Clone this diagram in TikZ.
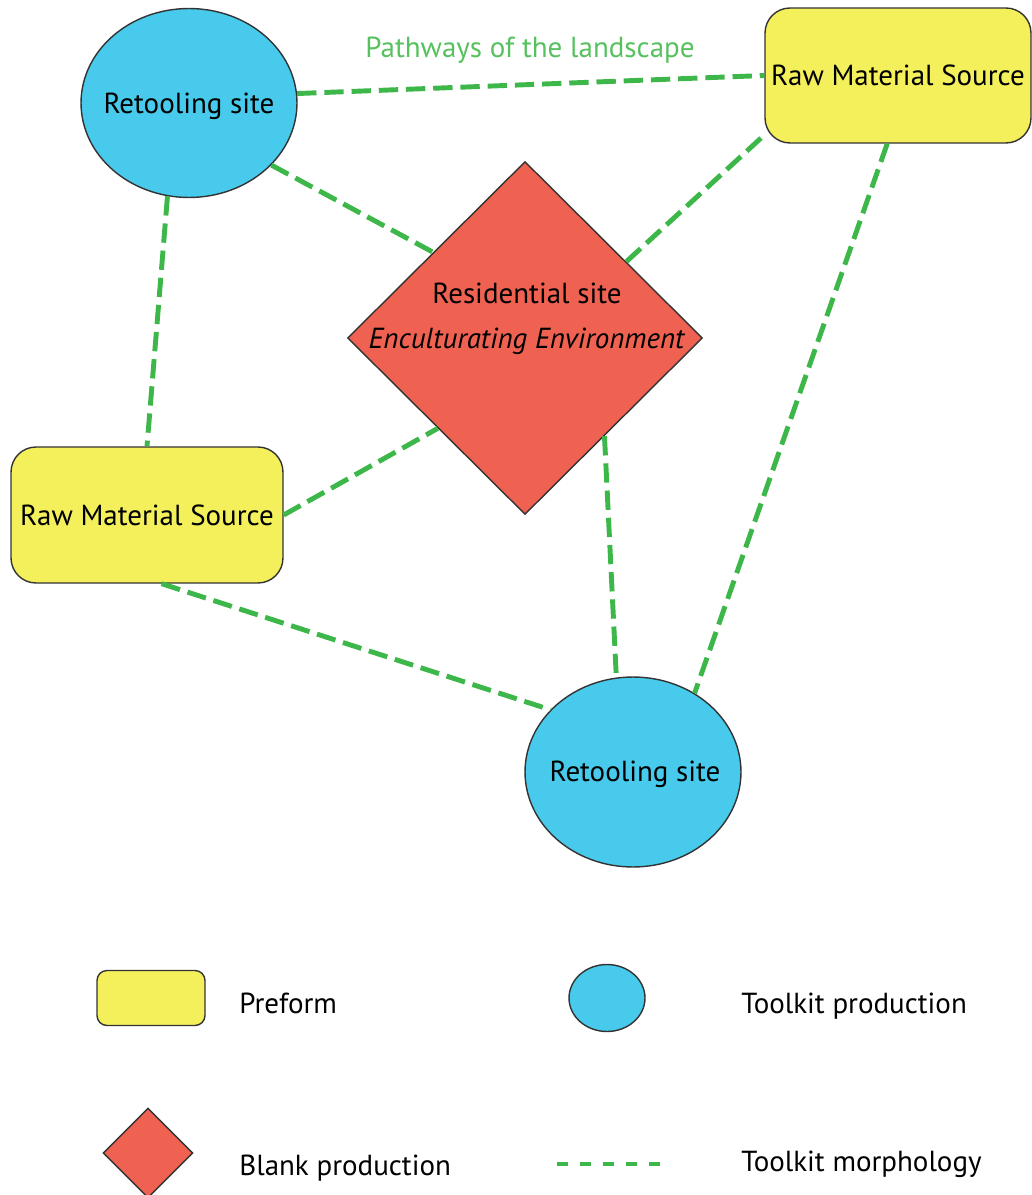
\documentclass[tikz,border=0pt]{standalone}
\usepackage{fontspec}
\setmainfont{PT Sans}
\usetikzlibrary{shapes.geometric}

\definecolor{siteblue}{HTML}{47CAEC}
\definecolor{rawyellow}{HTML}{F3F05C}
\definecolor{resred}{HTML}{EF6150}
\definecolor{pathgreen}{HTML}{3DB74A}
\definecolor{labelgreen}{HTML}{56C15E}
\definecolor{edgegray}{HTML}{333333}

\tikzset{
    site/.style={ellipse, draw=edgegray, line width=0.8pt, fill=siteblue, inner sep=0pt},
    source/.style={rectangle, rounded corners=0.5cm, draw=edgegray, line width=0.8pt, fill=rawyellow, inner sep=0pt},
    residence/.style={diamond, aspect=1, draw=edgegray, line width=0.8pt, fill=resred, inner sep=0pt},
    pathway/.style={pathgreen, line width=2.8pt, dash pattern=on 11pt off 4.5pt},
    keytext/.style={anchor=west, inner sep=0pt}
}

\begin{document}
\begin{tikzpicture}[x=0.02cm, y=-0.02cm, font=\fontsize{16.5}{19}\selectfont]
    \useasboundingbox (0,0) rectangle (1031,1195);

    % sites
    \node[site, minimum width=4.32cm, minimum height=3.78cm] (ret1) at (189,103) {};
    \node (ret1text) at (189,106) {Retooling site};
    \node[site, minimum width=4.32cm, minimum height=3.8cm] (ret2) at (633,772) {};
    \node (ret2text) at (635,774) {Retooling site};

    % raw material sources
    \node[source, minimum width=5.32cm, minimum height=2.7cm] (raw1) at (898,75.5) {Raw Material Source};
    \node[source, minimum width=5.44cm, minimum height=2.72cm] (raw2) at (147,515) {Raw Material Source};

    % residential site
    \node[residence, minimum width=7.1cm, minimum height=7.06cm] (res) at (525,338) {};
    \node[align=center, font=\fontsize{16.5}{25.5}\selectfont] (restext) at (527,319)
        {Residential site\\\textit{Enculturating Environment}};

    \node[text=labelgreen] (pathlabel) at (530,50) {Pathways of the landscape};

    % pathways
    \draw[pathway] (ret1.5) -- (raw1.west);
    \draw[pathway] (ret1.-37) -- (res.137);
    \draw[pathway] (res.37) -- (raw1.204);
    \draw[pathway] (ret1.-103) -- (raw2.north);
    \draw[pathway] (raw2.east) -- (res.-134);
    \draw[pathway] (res.-51) -- (ret2.100);
    \draw[pathway] (raw1.-99) -- (ret2.52);
    \draw[pathway] (raw2.-78) -- (ret2.143);

    % legend
    \node[source, rounded corners=0.2cm, minimum width=2.16cm, minimum height=1.1cm] (keysource) at (151,998) {};
    \node[keytext] (keysourcetext) at (239,1003) {Preform};

    \node[site, minimum width=1.52cm, minimum height=1.34cm] (keysite) at (607,998) {};
    \node[keytext] (keysitetext) at (741,1006) {Toolkit production};

    \node[residence, minimum width=1.8cm, minimum height=1.8cm] (keyres) at (148,1153) {};
    \node[keytext] (keyrestext) at (239,1168) {Blank production};

    \coordinate (keyA) at (557,1164);
    \coordinate (keyB) at (665,1164);
    \draw[pathway, dash pattern=on 6.3pt off 6.8pt] (keyA) -- (keyB);
    \node[keytext] (keypathtext) at (741,1164) {Toolkit morphology};
\end{tikzpicture}
\end{document}
